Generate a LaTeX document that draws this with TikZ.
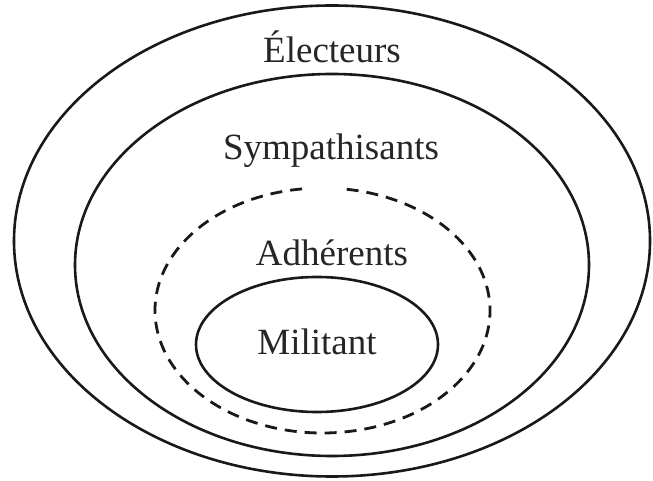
\documentclass[tikz,border=0pt]{standalone}
\usepackage{fontspec}
\setmainfont{Liberation Serif}
\begin{document}
\begin{tikzpicture}[x=1pt,y=1pt,
  ring/.style={draw=black!90,line width=2.6pt},
  dashring/.style={draw=black!90,line width=2.8pt,dash pattern=on 12pt off 8pt},
  lbl/.style={anchor=base,inner sep=0pt,font=\fontsize{37}{40}\selectfont,text=black!85}]
\useasboundingbox (0,0) rectangle (653,481);
\fill[white] (0,0) rectangle (653,481);
% outer ring: electeurs
\draw[ring] (332,240) ellipse [x radius=318, y radius=235.5];
% sympathisants
\draw[ring] (332,216) ellipse [x radius=257, y radius=191];
% adherents (dashed, open at top)
\draw[dashring] (322.5,170.5) ++(97:167.5 and 122.5) arc [start angle=97, end angle=444, x radius=167.5, y radius=122.5];
% militant
\draw[ring] (317,136.5) ellipse [x radius=121, y radius=67.5];
% labels
\node[lbl] (elec) at (332,418) {Électeurs};
\node[lbl] (symp) at (331,321) {Sympathisants};
\node[lbl] (adh) at (332,215) {Adhérents};
\node[lbl] (mil) at (317,126) {Militant};
\end{tikzpicture}
\end{document}
